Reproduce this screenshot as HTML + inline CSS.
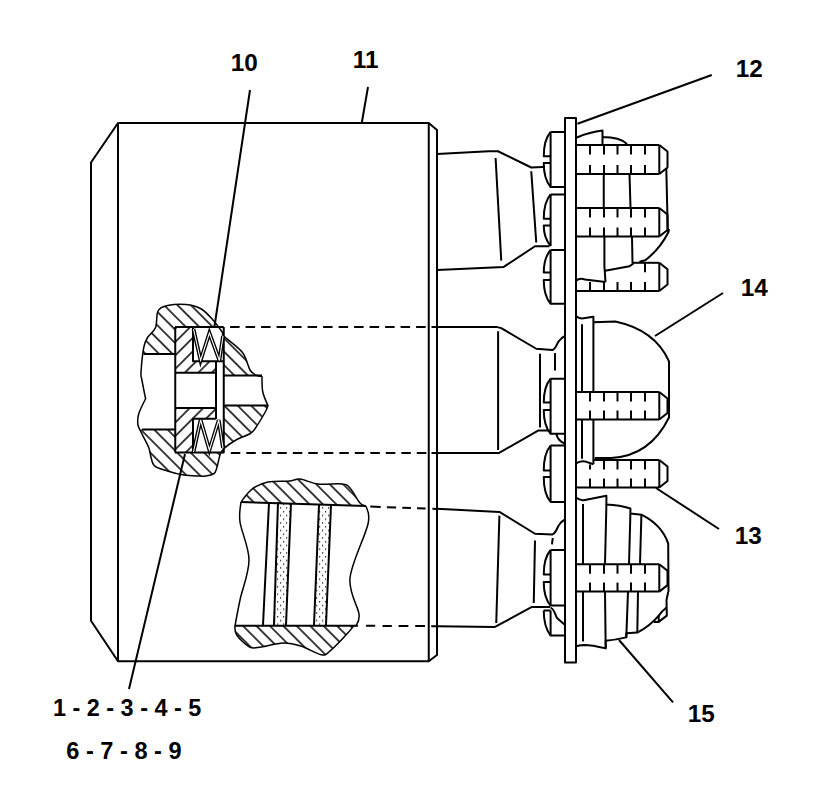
<!DOCTYPE html>
<html><head><meta charset="utf-8"><style>
html,body{margin:0;padding:0;background:#fff;width:813px;height:801px;overflow:hidden}
svg{display:block}
text{font-family:"Liberation Sans",sans-serif;font-weight:bold;font-size:23px;fill:#000;white-space:pre}
</style></head><body>
<svg width="813" height="801" viewBox="0 0 813 801">
<defs>
<pattern id="hb" patternUnits="userSpaceOnUse" width="9.5" height="9.5" patternTransform="rotate(-45)"><line x1="4.75" y1="-1" x2="4.75" y2="11" stroke="#000" stroke-width="1.5"/></pattern>
<pattern id="hf" patternUnits="userSpaceOnUse" width="9.5" height="9.5" patternTransform="rotate(45)"><line x1="4.75" y1="-1" x2="4.75" y2="11" stroke="#000" stroke-width="1.5"/></pattern>
<pattern id="dots" patternUnits="userSpaceOnUse" width="6" height="7.5"><rect x="1" y="1" width="1.2" height="1.4" fill="#222"/><rect x="4" y="4.75" width="1.2" height="1.4" fill="#222"/></pattern>
</defs>
<rect width="813" height="801" fill="#fff"/>
<g fill="none" stroke="#000" stroke-linecap="butt" stroke-linejoin="round">
<path d="M91,162.5 L118,123 L428.75,123 L437,130 L437,655 L428.75,661.25 L118,661.25 L91,620.75 Z" stroke-width="2"/>
<line x1="118" y1="123" x2="118" y2="661.25" stroke-width="2"/>
<line x1="428.75" y1="123" x2="428.75" y2="661.25" stroke-width="2"/>
<line x1="250" y1="90" x2="213.5" y2="333" stroke-width="2"/>
<line x1="368" y1="87" x2="361.75" y2="123" stroke-width="2"/>
<line x1="711.75" y1="75" x2="577.5" y2="123.75" stroke-width="2"/>
<line x1="655" y1="336" x2="723" y2="293" stroke-width="2"/>
<line x1="656" y1="488" x2="719" y2="529" stroke-width="2"/>
<line x1="619" y1="640" x2="673" y2="702.4" stroke-width="2"/>
<line x1="185" y1="454" x2="129" y2="689" stroke-width="2"/>
<path d="M437,154 L488.75,151.25 L498,151.25 L531.25,167.5 L542.5,166.9 L544.4,167" stroke-width="2"/>
<path d="M437,270 L503.75,266.9 L535,246.25 L549.4,246.25" stroke-width="2"/>
<line x1="495.6" y1="158" x2="501.25" y2="260.6" stroke-width="2"/>
<line x1="531.25" y1="171.25" x2="536.25" y2="242.5" stroke-width="2"/>
<path d="M437,327 L496.25,326.9 L501.25,328.1 L536.25,348.75 L552.5,350 C556,349 557,343 559,341 C561,338 563,337 565,336" stroke-width="2"/>
<path d="M437,453.1 L498.75,453.1 L538.1,430.6 L548.75,430.6 L551,431" stroke-width="2"/>
<line x1="498.1" y1="331.25" x2="498.1" y2="450" stroke-width="2"/>
<line x1="540" y1="353.75" x2="540" y2="427.5" stroke-width="2"/>
<line x1="555" y1="353" x2="555" y2="370.6" stroke-width="2"/>
<path d="M437,508.75 L499.4,511.9 L535,533.75 L552.5,534.4 C556,533 557,528 559,525 C561,522 563,520.5 565,519.5" stroke-width="2"/>
<path d="M437,626.25 L495,626.9 L531.9,606.9 L550,606.9" stroke-width="2"/>
<line x1="499.4" y1="515.6" x2="496.25" y2="623" stroke-width="2"/>
<line x1="535" y1="540.6" x2="533.75" y2="603" stroke-width="2"/>
<line x1="552.75" y1="538" x2="552" y2="544.4" stroke-width="2"/>
<rect x="565" y="118" width="11" height="544.5" stroke-width="2"/>
<path d="M550.6,132 L565,132 M550.6,132 Q543.75,140 543.75,156.25 L550.6,156.25" stroke-width="2"/>
<path d="M550.6,163.1 L543.75,163.1 Q543.75,179 550.6,187 L565,187" stroke-width="2"/>
<line x1="550.6" y1="132" x2="550.6" y2="187" stroke-width="2"/>
<path d="M550.6,194.4 L565,194.4 M550.6,194.4 Q543.75,202.4 543.75,218.75 L550.6,218.75" stroke-width="2"/>
<path d="M550.6,225.6 L543.75,225.6 Q543.75,238 550.6,246" stroke-width="2"/>
<line x1="550.6" y1="194.4" x2="550.6" y2="246" stroke-width="2"/>
<path d="M550.6,250 L565,250 M550.6,250 Q543.75,258 543.75,272.5 L550.6,272.5" stroke-width="2"/>
<path d="M550.6,280 L543.75,280 Q543.75,295.75 550.6,303.75 L565,303.75" stroke-width="2"/>
<line x1="550.6" y1="250" x2="550.6" y2="303.75" stroke-width="2"/>
<path d="M550.6,378.75 L565,378.75 M550.6,378.75 Q543.75,386.75 543.75,402.5 L550.6,402.5" stroke-width="2"/>
<path d="M550.6,410 L543.75,410 Q543.75,425.75 550.6,433.75 L565,433.75" stroke-width="2"/>
<line x1="550.6" y1="378.75" x2="550.6" y2="433.75" stroke-width="2"/>
<path d="M550.6,445.6 L565,445.6 M550.6,445.6 Q543.75,453.6 543.75,470.6 L550.6,470.6" stroke-width="2"/>
<path d="M550.6,476.9 L543.75,476.9 Q543.75,493.9 550.6,501.9 L565,501.9" stroke-width="2"/>
<line x1="550.6" y1="445.6" x2="550.6" y2="501.9" stroke-width="2"/>
<path d="M550.6,550 L565,550 M550.6,550 Q543.75,558 543.75,574.4 L550.6,574.4" stroke-width="2"/>
<path d="M550.6,581.9 L543.75,581.9 Q543.75,597.6 550.6,605.6 L565,605.6" stroke-width="2"/>
<line x1="550.6" y1="550" x2="550.6" y2="605.6" stroke-width="2"/>
<path d="M543.75,610.6 L550.6,610.6 M543.75,610.6 Q543.75,627 550.6,635.6 L565,635.6" stroke-width="2"/>
<line x1="550.6" y1="610.6" x2="550.6" y2="635.6" stroke-width="2"/>
<path d="M556.25,433.75 Q558,441 565,443.75" stroke-width="2"/>
<path d="M550.6,607.5 C555,610 555,615 557,618 L565,625" stroke-width="2"/>
<line x1="576" y1="145" x2="659.3" y2="145" stroke-width="2"/>
<line x1="576" y1="174" x2="659.3" y2="174" stroke-width="2"/>
<path d="M659.3,145 L667.5,151.5 L667.5,167.5 L659.3,174" stroke-width="2"/>
<line x1="659.3" y1="145" x2="659.3" y2="174" stroke-width="2"/>
<line x1="590" y1="145" x2="590" y2="154.5" stroke-width="2"/>
<line x1="604" y1="145" x2="604" y2="154.5" stroke-width="2"/>
<line x1="617.5" y1="145" x2="617.5" y2="154.5" stroke-width="2"/>
<line x1="631" y1="145" x2="631" y2="154.5" stroke-width="2"/>
<line x1="645" y1="145" x2="645" y2="154.5" stroke-width="2"/>
<line x1="590" y1="165" x2="590" y2="174" stroke-width="2"/>
<line x1="604" y1="165" x2="604" y2="174" stroke-width="2"/>
<line x1="617.5" y1="165" x2="617.5" y2="174" stroke-width="2"/>
<line x1="631" y1="165" x2="631" y2="174" stroke-width="2"/>
<line x1="645" y1="165" x2="645" y2="174" stroke-width="2"/>
<line x1="576" y1="208" x2="659.3" y2="208" stroke-width="2"/>
<line x1="576" y1="236.5" x2="659.3" y2="236.5" stroke-width="2"/>
<path d="M659.3,208 L667.5,214.5 L667.5,230.0 L659.3,236.5" stroke-width="2"/>
<line x1="659.3" y1="208" x2="659.3" y2="236.5" stroke-width="2"/>
<line x1="590" y1="208" x2="590" y2="217.5" stroke-width="2"/>
<line x1="604" y1="208" x2="604" y2="217.5" stroke-width="2"/>
<line x1="617.5" y1="208" x2="617.5" y2="217.5" stroke-width="2"/>
<line x1="631" y1="208" x2="631" y2="217.5" stroke-width="2"/>
<line x1="645" y1="208" x2="645" y2="217.5" stroke-width="2"/>
<line x1="590" y1="227.5" x2="590" y2="236.5" stroke-width="2"/>
<line x1="604" y1="227.5" x2="604" y2="236.5" stroke-width="2"/>
<line x1="617.5" y1="227.5" x2="617.5" y2="236.5" stroke-width="2"/>
<line x1="631" y1="227.5" x2="631" y2="236.5" stroke-width="2"/>
<line x1="645" y1="227.5" x2="645" y2="236.5" stroke-width="2"/>
<line x1="633" y1="262.8" x2="659.3" y2="262.8" stroke-width="2"/>
<line x1="576" y1="291" x2="659.3" y2="291" stroke-width="2"/>
<path d="M659.3,262.8 L667.5,269.3 L667.5,284.5 L659.3,291" stroke-width="2"/>
<line x1="659.3" y1="262.8" x2="659.3" y2="291" stroke-width="2"/>
<line x1="645" y1="262.8" x2="645" y2="272.3" stroke-width="2"/>
<line x1="590" y1="282" x2="590" y2="291" stroke-width="2"/>
<line x1="604" y1="282" x2="604" y2="291" stroke-width="2"/>
<line x1="617.5" y1="282" x2="617.5" y2="291" stroke-width="2"/>
<line x1="631" y1="282" x2="631" y2="291" stroke-width="2"/>
<line x1="645" y1="282" x2="645" y2="291" stroke-width="2"/>
<line x1="576" y1="392" x2="659.3" y2="392" stroke-width="2"/>
<line x1="576" y1="419.5" x2="659.3" y2="419.5" stroke-width="2"/>
<path d="M659.3,392 L667.5,398.5 L667.5,413.0 L659.3,419.5" stroke-width="2"/>
<line x1="659.3" y1="392" x2="659.3" y2="419.5" stroke-width="2"/>
<line x1="590" y1="392" x2="590" y2="401.5" stroke-width="2"/>
<line x1="604" y1="392" x2="604" y2="401.5" stroke-width="2"/>
<line x1="617.5" y1="392" x2="617.5" y2="401.5" stroke-width="2"/>
<line x1="631" y1="392" x2="631" y2="401.5" stroke-width="2"/>
<line x1="645" y1="392" x2="645" y2="401.5" stroke-width="2"/>
<line x1="590" y1="410.5" x2="590" y2="419.5" stroke-width="2"/>
<line x1="604" y1="410.5" x2="604" y2="419.5" stroke-width="2"/>
<line x1="617.5" y1="410.5" x2="617.5" y2="419.5" stroke-width="2"/>
<line x1="631" y1="410.5" x2="631" y2="419.5" stroke-width="2"/>
<line x1="645" y1="410.5" x2="645" y2="419.5" stroke-width="2"/>
<line x1="593.4" y1="460" x2="659.3" y2="460" stroke-width="2"/>
<line x1="576" y1="487.5" x2="659.3" y2="487.5" stroke-width="2"/>
<path d="M659.3,460 L667.5,466.5 L667.5,481.0 L659.3,487.5" stroke-width="2"/>
<line x1="659.3" y1="460" x2="659.3" y2="487.5" stroke-width="2"/>
<line x1="604" y1="460" x2="604" y2="469.5" stroke-width="2"/>
<line x1="617.5" y1="460" x2="617.5" y2="469.5" stroke-width="2"/>
<line x1="631" y1="460" x2="631" y2="469.5" stroke-width="2"/>
<line x1="645" y1="460" x2="645" y2="469.5" stroke-width="2"/>
<line x1="590" y1="478.5" x2="590" y2="487.5" stroke-width="2"/>
<line x1="604" y1="478.5" x2="604" y2="487.5" stroke-width="2"/>
<line x1="617.5" y1="478.5" x2="617.5" y2="487.5" stroke-width="2"/>
<line x1="631" y1="478.5" x2="631" y2="487.5" stroke-width="2"/>
<line x1="645" y1="478.5" x2="645" y2="487.5" stroke-width="2"/>
<line x1="590" y1="464.5" x2="590" y2="469.5" stroke-width="2"/>
<line x1="576" y1="564.2" x2="659.3" y2="564.2" stroke-width="2"/>
<line x1="576" y1="591.6" x2="659.3" y2="591.6" stroke-width="2"/>
<path d="M659.3,564.2 L667.5,570.7 L667.5,585.1 L659.3,591.6" stroke-width="2"/>
<line x1="659.3" y1="564.2" x2="659.3" y2="591.6" stroke-width="2"/>
<line x1="590" y1="564.2" x2="590" y2="573.7" stroke-width="2"/>
<line x1="604" y1="564.2" x2="604" y2="573.7" stroke-width="2"/>
<line x1="617.5" y1="564.2" x2="617.5" y2="573.7" stroke-width="2"/>
<line x1="631" y1="564.2" x2="631" y2="573.7" stroke-width="2"/>
<line x1="645" y1="564.2" x2="645" y2="573.7" stroke-width="2"/>
<line x1="590" y1="582.6" x2="590" y2="591.6" stroke-width="2"/>
<line x1="604" y1="582.6" x2="604" y2="591.6" stroke-width="2"/>
<line x1="617.5" y1="582.6" x2="617.5" y2="591.6" stroke-width="2"/>
<line x1="631" y1="582.6" x2="631" y2="591.6" stroke-width="2"/>
<line x1="645" y1="582.6" x2="645" y2="591.6" stroke-width="2"/>
<path d="M577,137.5 Q590,132 602.5,130.6 L602.5,145 M602.5,137 Q620,137 627,144" stroke-width="2"/>
<line x1="603.75" y1="174" x2="603.75" y2="208" stroke-width="2"/>
<line x1="629.5" y1="174" x2="630.5" y2="208" stroke-width="2"/>
<line x1="666.3" y1="168.3" x2="667.8" y2="232" stroke-width="2"/>
<path d="M604.4,236.5 L604.4,266 L605.5,282" stroke-width="2"/>
<path d="M576,280.7 Q579.6,277.5 585,279.5 L605.5,282" stroke-width="2"/>
<path d="M605,270.8 Q620,268 629.5,266.3 L633.5,263.4" stroke-width="2"/>
<line x1="632" y1="236.5" x2="632.5" y2="263" stroke-width="2"/>
<path d="M639.4,261.8 L645.3,260.2 Q660,249 668.5,232 L669,229" stroke-width="2"/>
<path d="M576,316 Q580,319.5 585,318 L593.4,316.8 L593.4,392" stroke-width="2"/>
<line x1="582" y1="324.3" x2="582" y2="392" stroke-width="2"/>
<path d="M593.4,322.3 L615.3,321.6 Q655,330 669,361.4 L669,417.5 Q650,456 611.2,458 L594.7,458" stroke-width="2"/>
<line x1="582" y1="419.5" x2="582" y2="458.7" stroke-width="2"/>
<line x1="593.4" y1="419.5" x2="593.4" y2="464.2" stroke-width="2"/>
<path d="M576,463.5 Q580,460.5 585,461.4 L593.4,464.2" stroke-width="2"/>
<path d="M576,497.6 Q580,501 585,500 L606.4,495.8 L606.4,504.4 Q620,505 630.4,508.5 L630.4,513.6 L641.4,514.7 Q662,525 668.2,543.6 L668.5,592" stroke-width="2"/>
<line x1="583" y1="504" x2="583" y2="564.2" stroke-width="2"/>
<line x1="606.4" y1="504.4" x2="605" y2="564.2" stroke-width="2"/>
<line x1="630.4" y1="513.6" x2="629" y2="564.2" stroke-width="2"/>
<line x1="641.4" y1="514.7" x2="640" y2="564.2" stroke-width="2"/>
<line x1="583" y1="591.6" x2="583" y2="641.5" stroke-width="2"/>
<line x1="605" y1="591.6" x2="605.7" y2="648.4" stroke-width="2"/>
<line x1="628" y1="591.6" x2="626.3" y2="637.4" stroke-width="2"/>
<line x1="638" y1="591.6" x2="637.3" y2="632.6" stroke-width="2"/>
<path d="M668.2,592 L666.5,600 L666.8,615.6 L658.75,621.9 L653.75,621.9" stroke-width="2"/>
<path d="M666.5,607.5 Q662,611 658.75,615.6 Q650,626 637.3,632.6 L626.3,633.3 L626.3,637.4 Q615,640 605.7,640.8 L605.7,648.4 Q592,645 583.7,645 Q579,645.5 576,646.3" stroke-width="2"/>
<line x1="658.75" y1="615.6" x2="658.75" y2="621.9" stroke-width="2"/>
<clipPath id="c1"><path d="M158,311 C159.78,307.72 163.30,306.59 167.50,305.60 C171.70,304.61 180.97,303.93 186.00,304.40 C191.03,304.87 197.03,306.50 201.00,308.75 C204.97,311.00 209.28,315.84 212.50,319.40 C215.72,322.96 220.81,330.01 222.50,332.50 C224.19,334.99 220.75,333.00 223.75,336.00 C226.75,339.00 238.56,347.40 242.50,352.50 C246.44,357.60 247.97,366.60 250.00,370.00 C252.03,373.40 254.20,374.22 256.00,375.20 C257.80,376.18 262.00,376.50 262.00,376.50 C262.00,376.50 261.90,387.63 262.80,392.00 C263.70,396.37 268.00,405.60 268.00,405.60 C268.00,405.60 266.95,409.03 265.00,412.50 C263.05,415.97 257.25,425.56 255.00,428.75 C252.75,431.94 252.85,432.06 250.00,433.75 C247.15,435.44 239.94,437.75 236.00,440.00 C232.06,442.25 226.15,446.50 223.75,448.75 C221.35,451.00 221.31,451.44 220.00,455.00 C218.69,458.56 217.25,469.35 215.00,472.50 C212.75,475.65 207.25,475.48 205.00,476.00 C202.75,476.52 203.19,476.15 200.00,476.00 C196.81,475.85 188.62,475.75 183.75,475.00 C178.88,474.25 172.00,472.50 167.50,471.00 C163.00,469.50 156.56,468.52 153.75,465.00 C150.94,461.48 150.44,452.00 148.75,447.50 C147.06,443.00 144.11,438.38 142.50,435.00 C140.89,431.62 138.56,428.19 138.00,425.00 C137.44,421.81 137.61,417.69 138.75,413.75 C139.89,409.81 145.60,398.75 145.60,398.75 C145.60,398.75 142.59,383.94 141.90,380.00 C141.21,376.06 140.72,377.38 141.00,372.50 C141.28,367.62 142.78,352.75 143.75,347.50 C144.72,342.25 145.72,340.50 147.50,337.50 C149.28,334.50 154.03,331.48 155.60,327.50 C157.17,323.52 156.22,314.28 158.00,311.00 Z"/></clipPath>
<rect x="130" y="290" width="150" height="200" fill="url(#hb)" clip-path="url(#c1)" stroke="none"/>
<rect x="175" y="327" width="48.75" height="125.5" fill="#fff" stroke="none"/>
<rect x="175" y="327" width="48.75" height="125.5" fill="url(#hf)" stroke="none"/>
<g fill="#fff" stroke="none"><rect x="193" y="327" width="30.75" height="34.25"/><rect x="193" y="418.75" width="30.75" height="33.75"/><rect x="175" y="372.7" width="48.75" height="35.3"/><rect x="216" y="361" width="7.75" height="58"/><rect x="128" y="354" width="47" height="75.4"/><rect x="223.75" y="375.6" width="50" height="30"/></g>
<path d="M158,311 C159.78,307.72 163.30,306.59 167.50,305.60 C171.70,304.61 180.97,303.93 186.00,304.40 C191.03,304.87 197.03,306.50 201.00,308.75 C204.97,311.00 209.28,315.84 212.50,319.40 C215.72,322.96 220.81,330.01 222.50,332.50 C224.19,334.99 220.75,333.00 223.75,336.00 C226.75,339.00 238.56,347.40 242.50,352.50 C246.44,357.60 247.97,366.60 250.00,370.00 C252.03,373.40 254.20,374.22 256.00,375.20 C257.80,376.18 262.00,376.50 262.00,376.50 C262.00,376.50 261.90,387.63 262.80,392.00 C263.70,396.37 268.00,405.60 268.00,405.60 C268.00,405.60 266.95,409.03 265.00,412.50 C263.05,415.97 257.25,425.56 255.00,428.75 C252.75,431.94 252.85,432.06 250.00,433.75 C247.15,435.44 239.94,437.75 236.00,440.00 C232.06,442.25 226.15,446.50 223.75,448.75 C221.35,451.00 221.31,451.44 220.00,455.00 C218.69,458.56 217.25,469.35 215.00,472.50 C212.75,475.65 207.25,475.48 205.00,476.00 C202.75,476.52 203.19,476.15 200.00,476.00 C196.81,475.85 188.62,475.75 183.75,475.00 C178.88,474.25 172.00,472.50 167.50,471.00 C163.00,469.50 156.56,468.52 153.75,465.00 C150.94,461.48 150.44,452.00 148.75,447.50 C147.06,443.00 144.11,438.38 142.50,435.00 C140.89,431.62 138.56,428.19 138.00,425.00 C137.44,421.81 137.61,417.69 138.75,413.75 C139.89,409.81 145.60,398.75 145.60,398.75 C145.60,398.75 142.59,383.94 141.90,380.00 C141.21,376.06 140.72,377.38 141.00,372.50 C141.28,367.62 142.78,352.75 143.75,347.50 C144.72,342.25 145.72,340.50 147.50,337.50 C149.28,334.50 154.03,331.48 155.60,327.50 C157.17,323.52 156.22,314.28 158.00,311.00 Z" stroke-width="1.5"/>
<line x1="143.5" y1="354" x2="175" y2="354" stroke-width="2"/>
<line x1="142" y1="429.4" x2="175" y2="429.4" stroke-width="2"/>
<line x1="175.25" y1="327" x2="175.25" y2="452.5" stroke-width="2"/>
<line x1="175" y1="327" x2="223.75" y2="327" stroke-width="2"/>
<line x1="175" y1="452.5" x2="224.4" y2="452.5" stroke-width="2"/>
<path d="M193,327 L193,361.25 L223.75,361.25" stroke-width="2"/>
<line x1="175" y1="372.7" x2="216" y2="372.7" stroke-width="2"/>
<line x1="175" y1="408" x2="216" y2="408" stroke-width="2"/>
<line x1="216" y1="361" x2="216" y2="419" stroke-width="2"/>
<line x1="223.75" y1="327" x2="223.75" y2="452.5" stroke-width="2"/>
<line x1="223.75" y1="375.6" x2="262" y2="375.6" stroke-width="2"/>
<line x1="223.75" y1="405.6" x2="268" y2="405.6" stroke-width="2"/>
<path d="M193,452.5 L193,418.75 L216,418.75" stroke-width="2"/>
<path d="M193.5,329 L200.6,360.5 L209.4,333 L219.4,360.5 L223,336" stroke-width="3.8" stroke-linejoin="miter"/>
<path d="M193.5,329 L200.6,360.5 L209.4,333 L219.4,360.5 L223,336" stroke-width="1.1" stroke="#fff" stroke-linejoin="miter"/>
<path d="M193.5,452 L200.6,420 L209.4,450 L218.75,420 L223,448" stroke-width="3.8" stroke-linejoin="miter"/>
<path d="M193.5,452 L200.6,420 L209.4,450 L218.75,420 L223,448" stroke-width="1.1" stroke="#fff" stroke-linejoin="miter"/>
<path d="M230.1,327 L428,327 M431.5,327 L437,327" stroke-width="2" stroke-dasharray="9.5 6"/>
<path d="M230.8,453 L428,453 M431.5,453 L437,453" stroke-width="2" stroke-dasharray="9.5 6"/>
<clipPath id="c3"><path d="M241,502 C242.17,500.50 245.67,495.50 248.00,493.00 C250.33,490.50 251.67,488.83 255.00,487.00 C258.33,485.17 262.17,483.00 268.00,482.00 C273.83,481.00 284.67,481.50 290.00,481.00 C295.33,480.50 295.33,478.50 300.00,479.00 C304.67,479.50 311.00,483.17 318.00,484.00 C325.00,484.83 336.67,483.33 342.00,484.00 C347.33,484.67 347.00,484.83 350.00,488.00 C353.00,491.17 357.33,500.00 360.00,503.00 C362.67,506.00 365.00,505.50 366.00,506.00 Z"/></clipPath>
<clipPath id="c4"><path d="M234.8,625.7 C235.12,627.25 234.25,631.45 236.70,635.00 C239.15,638.55 245.40,645.00 249.50,647.00 C253.60,649.00 255.72,647.67 261.30,647.00 C266.88,646.33 276.43,643.17 283.00,643.00 C289.57,642.83 294.30,644.03 300.70,646.00 C307.10,647.97 316.48,653.98 321.40,654.80 C326.32,655.62 326.10,654.20 330.20,650.90 C334.30,647.60 342.05,639.20 346.00,635.00 C349.95,630.80 352.58,627.25 353.90,625.70 Z"/></clipPath>
<rect x="230" y="470" width="140" height="40" fill="url(#hb)" clip-path="url(#c3)" stroke="none"/>
<rect x="230" y="620" width="140" height="40" fill="url(#hb)" clip-path="url(#c4)" stroke="none"/>
<path d="M278,502 L291,503 L286,625 L274,625 Z M319,505 L331,505 L326,625 L314,625 Z" fill="url(#dots)" stroke="none"/>
<path d="M241,502 C242.17,500.50 245.67,495.50 248.00,493.00 C250.33,490.50 251.67,488.83 255.00,487.00 C258.33,485.17 262.17,483.00 268.00,482.00 C273.83,481.00 284.67,481.50 290.00,481.00 C295.33,480.50 295.33,478.50 300.00,479.00 C304.67,479.50 311.00,483.17 318.00,484.00 C325.00,484.83 336.67,483.33 342.00,484.00 C347.33,484.67 347.00,484.83 350.00,488.00 C353.00,491.17 357.33,500.00 360.00,503.00 C362.67,506.00 365.00,505.50 366.00,506.00" stroke-width="1.5"/>
<path d="M234.8,625.7 C235.12,627.25 234.25,631.45 236.70,635.00 C239.15,638.55 245.40,645.00 249.50,647.00 C253.60,649.00 255.72,647.67 261.30,647.00 C266.88,646.33 276.43,643.17 283.00,643.00 C289.57,642.83 294.30,644.03 300.70,646.00 C307.10,647.97 316.48,653.98 321.40,654.80 C326.32,655.62 326.10,654.20 330.20,650.90 C334.30,647.60 342.05,639.20 346.00,635.00 C349.95,630.80 352.58,627.25 353.90,625.70" stroke-width="1.5"/>
<line x1="241" y1="502" x2="366" y2="506" stroke-width="2"/>
<path d="M241,502 C240.83,505.33 238.67,512.33 240.00,522.00 C241.33,531.67 249.00,547.00 249.00,560.00 C249.00,573.00 242.33,589.05 240.00,600.00 C237.67,610.95 235.83,621.42 235.00,625.70" stroke-width="1.5"/>
<path d="M366,506 C366.33,509.00 370.67,512.00 368.00,524.00 C365.33,536.00 351.50,563.00 350.00,578.00 C348.50,593.00 358.00,606.05 359.00,614.00 C360.00,621.95 356.50,623.75 356.00,625.70" stroke-width="1.5"/>
<line x1="234.8" y1="625.7" x2="358" y2="625.7" stroke-width="2"/>
<line x1="269" y1="503" x2="263" y2="625" stroke-width="2"/>
<line x1="278" y1="502" x2="274" y2="625" stroke-width="2"/>
<line x1="291" y1="503" x2="286" y2="625" stroke-width="2"/>
<line x1="319" y1="505" x2="314" y2="625" stroke-width="2"/>
<line x1="331" y1="505" x2="326" y2="625" stroke-width="2"/>
<path d="M370.3,506.6 L380.7,507 M386.9,507.2 L396.1,507.5 M402.3,507.8 L410.9,508.1 M417,508.3 L425.6,508.6 M432.4,508.8 L437,508.9" stroke-width="2"/>
<path d="M366,625.8 L375.2,625.8 M382.6,625.9 L391.8,625.9 M398.6,626 L408.4,626 M415.2,626.1 L425,626.1 M431.2,626.2 L437,626.2" stroke-width="2"/>
</g>
<g>
<text transform="translate(230.84,70.90) scale(1.058,1.000)">10</text>
<text transform="translate(352.84,67.90) scale(1.058,1.000)">11</text>
<text transform="translate(735.84,76.90) scale(1.058,1.000)">12</text>
<text transform="translate(734.84,543.60) scale(1.058,1.000)">13</text>
<text transform="translate(740.84,295.90) scale(1.058,1.000)">14</text>
<text transform="translate(687.84,721.90) scale(1.058,1.000)">15</text>
<text transform="translate(52.88,715.90) scale(1.020,1.029)">1 - 2 - 3 - 4 - 5</text>
<text transform="translate(66.27,759.10) scale(1.026,1.006)">6 - 7 - 8 - 9</text>
</g>
</svg>
</body></html>
